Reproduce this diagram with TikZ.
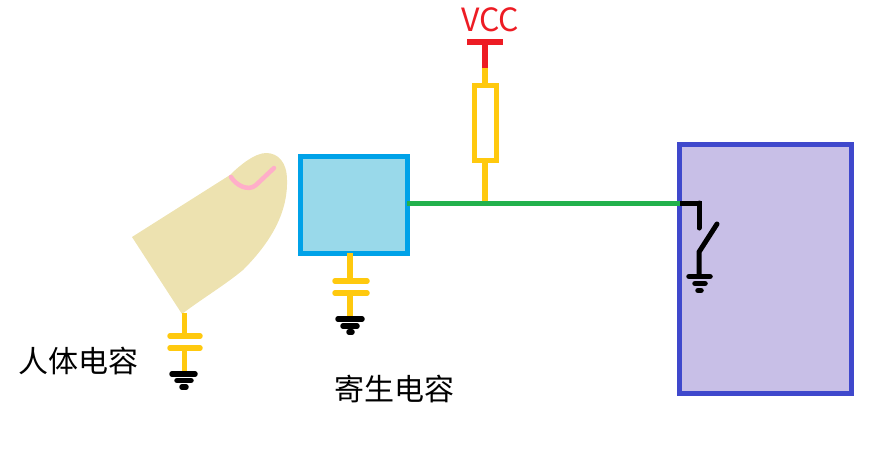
\documentclass[tikz,border=0pt]{standalone}
\usepackage{fontspec}
\setmainfont{Noto Sans CJK SC}
\definecolor{cyellow}{HTML}{FFC90E}
\definecolor{cgreen}{HTML}{22B14C}
\definecolor{cred}{HTML}{ED1C24}
\definecolor{cblue}{HTML}{00A2E8}
\definecolor{cbluefill}{HTML}{99D9EA}
\definecolor{cpurple}{HTML}{3F48CC}
\definecolor{cpurplefill}{HTML}{C8BFE7}
\definecolor{cfinger}{HTML}{EDE2B0}
\definecolor{cpink}{HTML}{FFAEC9}
\tikzset{
  box/.style={draw, line width=5pt, inner sep=0pt, outer sep=0pt},
  wire/.style={line width=5.5pt, cyellow},
  plate/.style={line width=5.5pt, cyellow, line cap=round},
  blk/.style={line width=5pt, black, line cap=round},
  gnd/.style={line width=5.5pt, black, line cap=round},
  label/.style={inner sep=0pt, font=\fontsize{30}{32}\selectfont},
}
\begin{document}
\begin{tikzpicture}[x=1pt,y=-1pt]
\useasboundingbox (0,0) rectangle (879,456);
% finger
\fill[cfinger] (132,237) -- (182,314) .. controls (200,300) and (225,285) .. (243,270)
  .. controls (268,245) and (288,215) .. (287,180) .. controls (287,162) and (278,153) .. (266,153)
  .. controls (255,153) and (240,165) .. (230,175) -- cycle;
\draw[cpink, line width=4.5pt, line cap=round] (231,177) .. controls (236,185) and (248,192) .. (256,185) -- (274,168);
% boxes
\node[box, fill=cbluefill, draw=cblue, minimum width=107pt, minimum height=97pt] (sensor) at (353.5,204.5) {};
\node[box, fill=cpurplefill, draw=cpurple, minimum width=172pt, minimum height=249pt] (chip) at (765.5,269) {};
\node[box, draw=cyellow, fill=white, minimum width=22pt, minimum height=75pt] (res) at (485,122.5) {};
% named points
\coordinate (vcctop) at (485,42);
\coordinate (vccend) at (485,68);
\coordinate (tap) at (485,203);
\coordinate (greenend) at (680,203);
% main wire and resistor
\draw[wire] (res.south) -- (tap);
\draw[wire] (vccend) -- (res.north);
\draw[line width=5pt, cgreen] (sensor.east |- tap) -- (greenend);
\draw[line width=6pt, cred] (vccend) -- (vcctop);
\draw[line width=6pt, cred] (467,42) -- (503,42);
\node[label, text=cred, font=\fontsize{32}{34}\selectfont] (vcc) at (490,20) {VCC};
% parasitic capacitor
\coordinate (pa) at (350,281);
\coordinate (pb) at (350,293);
\coordinate (pg) at (350,319);
\draw[wire] (sensor.south -| pa) -- (pa);
\draw[wire] (pb) -- (pg);
\draw[plate] (335,281) -- (367,281);
\draw[plate] (335,293) -- (367,293);
\draw[gnd] (338,319) -- (362,319);
\draw[gnd] (343,326) -- (357,326);
\draw[gnd] (349,332) -- (352,332);
% body capacitor
\coordinate (fa) at (184.5,336);
\coordinate (fb) at (184.5,348);
\coordinate (fg) at (184.5,373);
\coordinate (ft) at (184.5,313);
\draw[wire] (ft) -- (fa);
\draw[wire] (fb) -- (fg);
\draw[plate] (170,336) -- (200,336);
\draw[plate] (170,348) -- (200,348);
\draw[gnd] (172,374) -- (195,374);
\draw[gnd] (177,380.5) -- (191,380.5);
\draw[gnd] (182,387) -- (186,387);
% switch
\draw[line width=5pt, black] (greenend) -- (699,203) -- (699,228);
\draw[blk] (699,203) -- (699,228);
\draw[blk] (717,224) -- (699,252) -- (699,276);
\draw[gnd] (689,276.5) -- (710,276.5);
\draw[gnd] (695,283.5) -- (705,283.5);
\draw[gnd] (698,290.5) -- (701,290.5);
% labels
\node[label] (body) at (79,361) {人体电容};
\node[label] (para) at (394,389) {寄生电容};
\end{tikzpicture}
\end{document}
